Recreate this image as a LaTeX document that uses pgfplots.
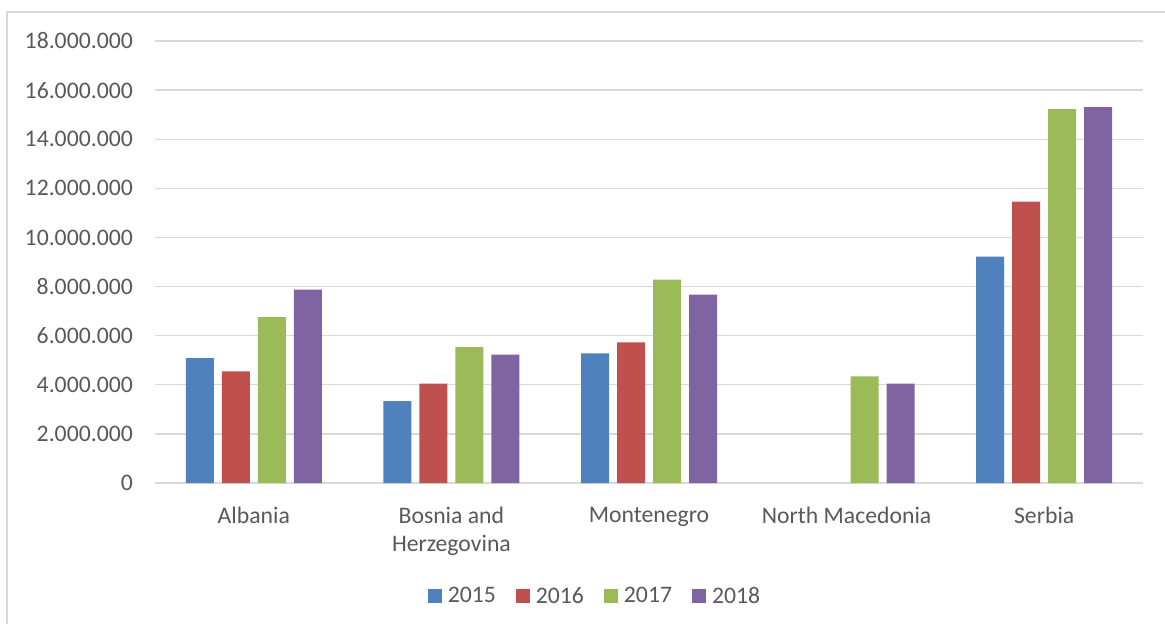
\documentclass[border=0pt]{standalone}
\usepackage{pgfplots}
\pgfplotsset{compat=1.18}
\usepackage{fontspec}
\setmainfont{Carlito}
\definecolor{c15}{HTML}{4F81BD}
\definecolor{c16}{HTML}{C0504D}
\definecolor{c17}{HTML}{9BBB59}
\definecolor{c18}{HTML}{8064A2}
\definecolor{txt}{HTML}{595959}
\definecolor{grd}{HTML}{D9D9D9}
\begin{document}
\begin{tikzpicture}[font=\fontsize{23.5bp}{28bp}\selectfont]
\useasboundingbox (0,0) rectangle (1165bp,624bp);
\fill[white] (0,0) rectangle (1165bp,624bp);
\draw[grd, line width=1.3bp] (7bp,0) -- (7bp,612bp) -- (1165bp,612bp);
\begin{axis}[
  at={(155bp,141bp)}, anchor=south west,
  scale only axis, width=988bp, height=442bp,
  ybar, bar width=28bp,
  xmin=-0.5, xmax=4.5, ymin=0, ymax=18000000,
  ytick distance=2000000,
  scaled y ticks=false,
  /pgf/number format/.cd, fixed, precision=0, 1000 sep={.}, assume math mode=true,
  /pgfplots/.cd,
  xtick={0,1,2,3,4},
  xticklabels={Albania,{Bosnia and\\Herzegovina},Montenegro,North Macedonia,Serbia},
  axis line style={draw=none},
  major tick length=0pt,
  ymajorgrids,
  major grid style={grd, line width=1.3bp},
  tick label style={font=\fontsize{23.7bp}{28bp}\selectfont, text=txt},
  yticklabel style={inner sep=0pt, xshift=-22bp},
  xticklabel style={inner sep=0pt, yshift=-24bp, align=center},
  legend columns=4,
  legend style={draw=none, fill=none, at={(0.4443,-0.2557)}, anchor=center,
    font=\fontsize{23.7bp}{28bp}\selectfont, text=txt,
    nodes={inner sep=0pt, anchor=west},
    /tikz/every even column/.append style={column sep=20bp},
    /tikz/every odd column/.append style={column sep=6bp}},
  legend image code/.code={\fill[#1] (0bp,-7bp) rectangle (14bp,7bp);},
]
\addplot[fill=c15, draw=none, bar shift=-54bp] coordinates {(0,5090000) (1,3330000) (2,5280000) (4,9220000)};
\addplot[fill=c16, draw=none, bar shift=-18bp] coordinates {(0,4550000) (1,4050000) (2,5730000) (4,11460000)};
\addplot[fill=c17, draw=none, bar shift=18bp] coordinates {(0,6750000) (1,5530000) (2,8280000) (3,4340000) (4,15230000)};
\addplot[fill=c18, draw=none, bar shift=54bp] coordinates {(0,7870000) (1,5230000) (2,7670000) (3,4050000) (4,15310000)};
\legend{2015,2016,2017,2018}
\end{axis}
\end{tikzpicture}
\end{document}
